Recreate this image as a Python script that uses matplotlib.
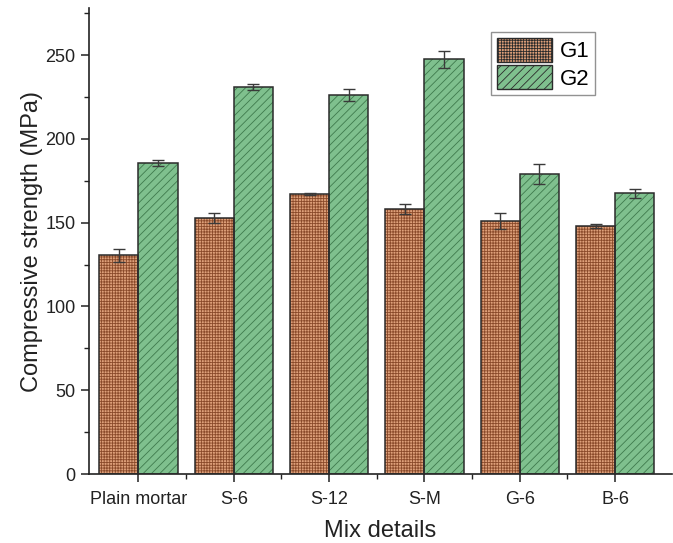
import matplotlib
matplotlib.use("Agg")
import matplotlib.pyplot as plt
import numpy as np
from matplotlib.ticker import MultipleLocator, FixedLocator
from matplotlib.patches import Patch

plt.rcParams['font.family'] = ['Liberation Sans', 'DejaVu Sans']
plt.rcParams['hatch.linewidth'] = 0.6

categories = ["Plain mortar", "S-6", "S-12", "S-M", "G-6", "B-6"]
g1_values = [130.5, 152.5, 167.0, 158.0, 151.0, 148.0]
g1_errors = [4.0, 3.0, 0.5, 3.0, 5.0, 1.0]
g2_values = [185.5, 231.0, 226.0, 247.5, 179.0, 167.5]
g2_errors = [1.6, 2.0, 3.7, 5.0, 6.0, 2.5]
series_names = ["G1", "G2"]

g1_face, g1_hatch = "#dea07a", "#8a4a2a"
g2_face, g2_hatch = "#7fc08e", "#3f7a4d"

fig = plt.figure(figsize=(6.73, 5.43), dpi=100)
ax = fig.add_axes([0.132, 0.127, 0.867, 0.858])

x = np.arange(len(categories))
w = 0.41

def hatched_bars(xpos, vals, errs, face, hcol, hatch):
    # filled, hatched body
    ax.bar(xpos, vals, w, color=face, edgecolor=hcol, hatch=hatch, linewidth=0, zorder=2)
    # outline
    ax.bar(xpos, vals, w, fill=False, edgecolor="#2b2b2b", linewidth=1.1, zorder=3)
    ax.errorbar(xpos, vals, yerr=errs, fmt="none", ecolor="#3a3a3a",
                elinewidth=1.0, capsize=4, capthick=1.0, zorder=4)

hatched_bars(x - w / 2, g1_values, g1_errors, g1_face, g1_hatch, "++++++")
hatched_bars(x + w / 2, g2_values, g2_errors, g2_face, g2_hatch, "////")

ax.set_xlim(-0.52, 5.6)
ax.set_ylim(0, 278)
ax.yaxis.set_major_locator(MultipleLocator(50))
ax.yaxis.set_minor_locator(MultipleLocator(25))
ax.set_xticks(x)
ax.set_xticklabels(categories)
ax.xaxis.set_minor_locator(FixedLocator(x[:-1] + 0.5))

for s in ["top", "right"]:
    ax.spines[s].set_visible(False)
for s in ["left", "bottom"]:
    ax.spines[s].set_linewidth(1.2)
    ax.spines[s].set_color("#222222")

ax.tick_params(axis="both", which="major", length=6, width=1.1, labelsize=13, colors="#222222")
ax.tick_params(axis="both", which="minor", length=3.5, width=1.0, colors="#222222")
ax.tick_params(axis="x", which="major", pad=6)

ax.set_xlabel("Mix details", fontsize=17, color="#222222", labelpad=9)
ax.set_ylabel("Compressive strength (MPa)", fontsize=17, color="#222222", labelpad=2)

handles = [
    Patch(facecolor=g1_face, edgecolor=g1_hatch, hatch="++++++", linewidth=0),
    Patch(facecolor=g2_face, edgecolor=g2_hatch, hatch="////", linewidth=0),
]
leg = ax.legend(handles, series_names, loc="upper right", bbox_to_anchor=(0.868, 0.948),
                fontsize=16, frameon=True, fancybox=False, edgecolor="#777777",
                handlelength=2.5, handleheight=1.3, borderpad=0.25, labelspacing=0.12,
                handletextpad=0.35, borderaxespad=0)
leg.get_frame().set_linewidth(1.0)
for p in leg.get_patches():
    p.set_edgecolor("#2b2b2b")
    p.set_linewidth(1.0)

fig.savefig("out.png", dpi=100, facecolor="white")
